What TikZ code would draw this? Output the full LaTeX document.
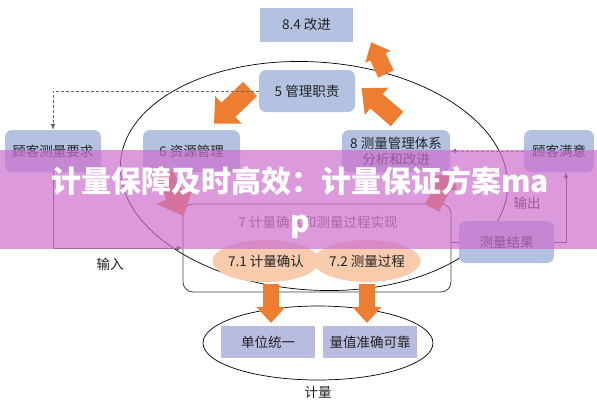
\documentclass[tikz,border=0pt]{standalone}
\usepackage{fontspec}
\setmainfont{Noto Sans CJK SC}
\usetikzlibrary{arrows.meta,shapes.geometric,calc}
\definecolor{boxblue}{RGB}{180,194,226}
\definecolor{boxlav}{RGB}{184,188,224}
\definecolor{peach}{RGB}{248,203,173}
\definecolor{orng}{RGB}{237,125,49}
\definecolor{band}{RGB}{205,110,205}
\definecolor{txt}{RGB}{34,34,34}
% block arrow: #1 tail, #2 canvas angle, #3 length, #4 shaft half width, #5 head half width, #6 head length
\newcommand{\orarrow}[6]{%
  \begin{scope}[shift={(#1)}, rotate=#2]
    \fill[orng] (0,-#4) -- ({#3-#6},-#4) -- ({#3-#6},-#5) -- (#3,0) -- ({#3-#6},#5) -- ({#3-#6},#4) -- (0,#4) -- cycle;
  \end{scope}}
\begin{document}
\begin{tikzpicture}[x=1pt,y=-1pt,
  font=\fontsize{13.5pt}{16pt}\selectfont,
  bx/.style={fill=boxblue, rounded corners=7pt, minimum height=42pt, inner sep=0pt, text=txt},
  sq/.style={fill=boxblue, minimum height=34pt, inner sep=0pt, text=txt},
  bot/.style={fill=boxlav, minimum height=32pt, minimum width=94pt, inner sep=0pt, text=txt},
  oval/.style={ellipse, fill=peach, minimum height=42pt, inner sep=0pt, text=txt},
  conn/.style={draw=black!70, line width=0.8pt},
  arrtip/.style={-{Latex[length=6pt,width=5pt]}},
  dashln/.style={draw=black!60, line width=0.8pt, dash pattern=on 3pt off 2pt}]
\useasboundingbox (0,0) rectangle (597,400);
% main loop
\draw[line width=0.7pt, rotate around={-4:(314,176)}] (314,176) ellipse [x radius=194pt, y radius=114pt];
% boxes
\node[sq, minimum width=93pt] (n84) at (306.5,24.5) {8.4 改进};
\node[bx, minimum width=96pt] (n5) at (307,91) {5 管理职责};
\node[bx, minimum width=97pt] (n6) at (191.5,151) {6 资源管理};
\node[bx, minimum width=96pt] (cr) at (53,151) {顾客测量要求};
\node[bx, minimum width=108pt, align=center, font=\fontsize{13.5pt}{16pt}\selectfont] (n8) at (396,151) {8 测量管理体系\\分析和改进};
\node[bx, minimum width=70pt] (cs) at (559,151) {顾客满意};
\node[bx, minimum width=95pt] (mr) at (506.5,242) {测量结果};
\node[draw=black!75, rounded corners=10pt, minimum width=268pt, minimum height=88pt, line width=0.8pt] (n7) at (317,248) {};
\node[text=black!65] (t7) at (318,222) {7 计量确认和测量过程实现};
\node[oval, minimum width=94pt] (e71) at (266,261) {7.1 计量确认};
\node[oval, minimum width=98pt] (e72) at (367,261) {7.2 测量过程};
% metrology ellipse
\node[ellipse, draw, line width=0.7pt, minimum width=230pt, minimum height=74pt] (me) at (318,343) {};
\node[bot] (u) at (268,342) {单位统一};
\node[bot] (q) at (370,342) {量值准确可靠};
% orange arrows
\orarrow{250,89}{224}{50}{10}{19}{20}
\orarrow{386,74}{115}{35}{8.5}{14}{16}
\orarrow{397,119}{139}{47}{9.5}{18}{20}
\orarrow{165,174}{294}{46}{9}{20}{22}
\orarrow{432,208}{62}{43}{8}{16}{18}
\orarrow{271,284}{270}{39}{8}{14.5}{16}
\orarrow{367,284}{270}{39}{8}{14.5}{16}
% connectors
\draw[dashln, arrtip] (n5.west) -| (cr.north);
\draw[dashln, arrtip] (cs.west) -- (n8.east);
\draw[conn, arrtip] (cr.south) |- (n7.west);
\coordinate (oc) at (566,242);
\draw[conn, arrtip] (mr.east) -- (oc) -- (oc |- cs.south);
\draw[conn] (n7.east |- mr.west) -- (mr.west);
% labels
\node[text=txt] (lin) at (110,264) {输入};
\node[text=txt] (lout) at (527,203) {输出};
\node[text=txt] (lme) at (318,392) {计量};
% banner
\fill[band, opacity=0.7] (0,150) rectangle (597,249);
\node[text=white, align=center, font=\bfseries\fontsize{30pt}{40pt}\selectfont] (title) at (300,203) {计量保障及时高效：计量保证方案ma\\p};
\end{tikzpicture}
\end{document}
